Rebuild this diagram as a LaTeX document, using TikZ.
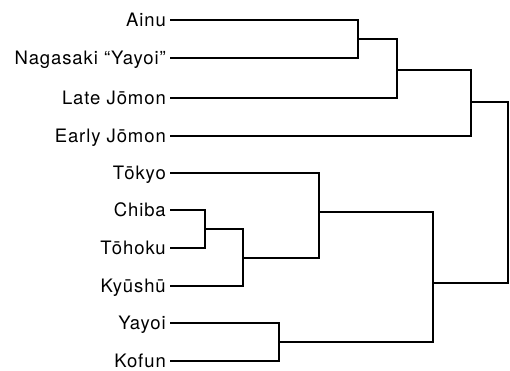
\documentclass[tikz,border=0pt]{standalone}
\usepackage{fontspec}
\setmainfont{TeX Gyre Heros}[LetterSpace=5]
\usetikzlibrary{positioning}

\begin{document}
\begin{tikzpicture}[
  x=1pt,y=-1pt,
  leaf/.style={anchor=east,inner xsep=4pt,inner ysep=0pt,
               text height=13pt,text depth=0pt,
               font=\fontsize{18.5}{22}\selectfont},
  br/.style={draw=black,line width=1.8pt,line join=miter}
]
\useasboundingbox (0,0) rectangle (510,370);

\node[leaf] (ainu)   at (170,20)  {Ainu};
\node[leaf] (nag)    at (170,58)  {Nagasaki “Yayoi”};
\node[leaf] (late)   at (170,98)  {Late Jōmon};
\node[leaf] (early)  at (170,136) {Early Jōmon};
\node[leaf] (tokyo)  at (170,173) {Tōkyo};
\node[leaf] (chiba)  at (170,210) {Chiba};
\node[leaf] (tohoku) at (170,248) {Tōhoku};
\node[leaf] (kyushu) at (170,286) {Kyūshū};
\node[leaf] (yayoi)  at (170,323) {Yayoi};
\node[leaf] (kofun)  at (170,361) {Kofun};

\coordinate (an)   at (358,39);
\coordinate (anl)  at (397,70);
\coordinate (jom)  at (471,102);
\coordinate (ct)   at (205,229);
\coordinate (ctk)  at (243,258);
\coordinate (mod)  at (319,212);
\coordinate (yk)   at (279,342);
\coordinate (jap)  at (433,283);
\coordinate (root) at (508,192);

\draw[br] (ainu) -| (an);
\draw[br] (nag) -| (an);
\draw[br] (an) -| (anl);
\draw[br] (late) -| (anl);
\draw[br] (anl) -| (jom);
\draw[br] (early) -| (jom);
\draw[br] (chiba) -| (ct);
\draw[br] (tohoku) -| (ct);
\draw[br] (ct) -| (ctk);
\draw[br] (kyushu) -| (ctk);
\draw[br] (tokyo) -| (mod);
\draw[br] (ctk) -| (mod);
\draw[br] (yayoi) -| (yk);
\draw[br] (kofun) -| (yk);
\draw[br] (mod) -| (jap);
\draw[br] (yk) -| (jap);
\draw[br] (jom) -| (root);
\draw[br] (jap) -| (root);
\end{tikzpicture}
\end{document}
